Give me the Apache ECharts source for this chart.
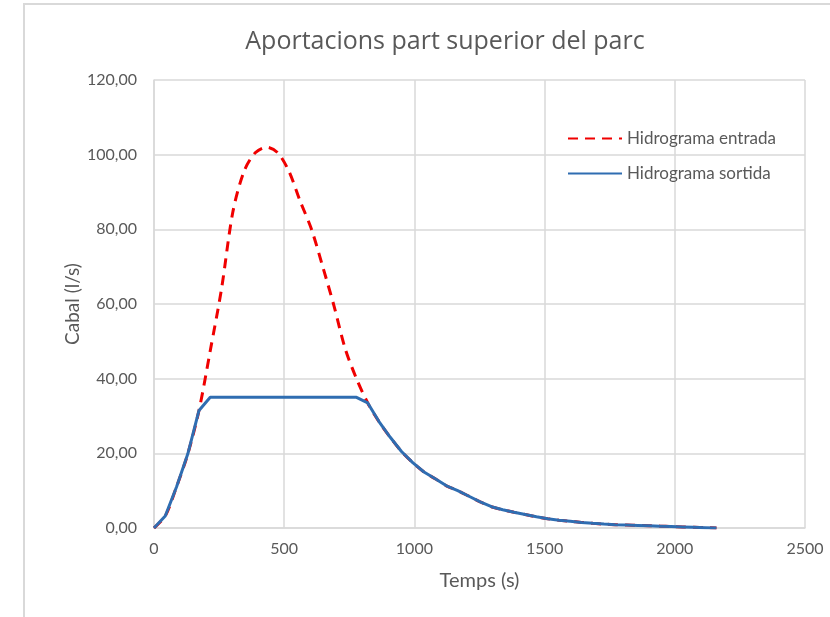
<!DOCTYPE html>
<html><head><meta charset="utf-8">
<script src="https://cdn.jsdelivr.net/npm/echarts@6/dist/echarts.min.js"></script>
<style>html,body{margin:0;padding:0;background:#fff}#c{width:830px;height:617px}</style>
</head><body><div id="c"></div>
<script>
const times = [0,43.2,86.4,129.6,172.8,216,259.2,302.4,345.6,388.8,432,475.2,518.4,561.6,604.8,648,691.2,734.4,777.6,820.8,864,907.2,950.4,993.6,1036.8,1080,1123.2,1166.4,1209.6,1252.8,1296,1339.2,1382.4,1425.6,1468.8,1512,1555.2,1598.4,1641.6,1684.8,1728,1771.2,1814.4,1857.6,1900.8,1944,1987.2,2030.4,2073.6,2116.8,2160];
const entrada = [0,3.2,11,19.8,31.5,47.5,64,84.5,95.5,100.5,102,100.5,95.5,87.5,80,70,59.5,48,40,33.5,28.5,24.3,20.5,17.5,15,13.2,11.3,10,8.5,7,5.7,4.9,4.2,3.6,3,2.5,2.1,1.8,1.5,1.25,1.05,0.9,0.8,0.7,0.6,0.5,0.4,0.3,0.2,0.1,0];
const sortida = [0,3.2,11,19.8,31.5,35,35,35,35,35,35,35,35,35,35,35,35,35,35,33.5,28.5,24.3,20.5,17.5,15,13.2,11.3,10,8.5,7,5.7,4.9,4.2,3.6,3,2.5,2.1,1.8,1.5,1.25,1.05,0.9,0.8,0.7,0.6,0.5,0.4,0.3,0.2,0.1,0];
const seriesNames = ['Hidrograma entrada','Hidrograma sortida'];
const titleText = 'Aportacions part superior del parc';
const xName = 'Temps (s)', yName = 'Cabal (l/s)';

const font = 'Lato, "Open Sans", sans-serif';
const gray = '#595959';
const chart = echarts.init(document.getElementById('c'), null, {renderer:'canvas'});
chart.setOption({
  animation:false,
  textStyle:{fontFamily:font},
  graphic:[{type:'polyline', shape:{points:[[24,617],[24,4],[830,4]]}, style:{stroke:'#d9d9d9', lineWidth:2, fill:null}, silent:true}],
  title:{text:titleText, left:440, top:24, textAlign:'center',
    textStyle:{fontFamily:'"Open Sans", sans-serif', fontSize:25, fontWeight:'normal', color:gray}},
  grid:{left:154, right:25, top:80, bottom:89, containLabel:false},
  legend:{orient:'vertical', left:562, top:125, itemGap:18, itemWidth:54, itemHeight:20,
    itemStyle:{opacity:0},
    textStyle:{fontFamily:font, fontSize:17, color:gray},
    data:seriesNames},
  xAxis:{type:'value', min:0, max:2500, interval:500, name:xName, nameLocation:'middle', nameGap:43,
    nameMoveOverlap:false,
    nameTextStyle:{fontFamily:font, fontSize:20, color:gray},
    axisLine:{show:true, lineStyle:{color:'#d9d9d9', width:1.5}}, axisTick:{show:false},
    axisLabel:{fontFamily:font, fontSize:16, color:gray, margin:13, formatter:v=>String(v)},
    splitLine:{show:true, lineStyle:{color:'#d9d9d9', width:1.5}}},
  yAxis:{type:'value', min:0, max:120, interval:20, name:yName, nameLocation:'middle', nameGap:72,
    nameMoveOverlap:false,
    nameTextStyle:{fontFamily:font, fontSize:19, color:gray},
    axisLine:{show:true, lineStyle:{color:'#d9d9d9', width:1.5}}, axisTick:{show:false},
    axisLabel:{fontFamily:font, fontSize:16, color:gray, margin:17,
      formatter:v=>v.toFixed(2).replace('.',',')},
    splitLine:{show:true, lineStyle:{color:'#d9d9d9', width:1.5}}},
  series:[
    {name:seriesNames[0], type:'line', data:times.map((t,i)=>[t,entrada[i]]), showSymbol:false, symbol:'none', smooth:0.3,
      lineStyle:{color:'#f00000', width:3, type:[10,7]}, itemStyle:{color:'#f00000'}, z:2},
    {name:seriesNames[1], type:'line', data:times.map((t,i)=>[t,sortida[i]]), showSymbol:false, symbol:'none',
      lineStyle:{color:'#2f6db1', width:3}, itemStyle:{color:'#2f6db1'}, z:3}
  ]
});
</script></body></html>
